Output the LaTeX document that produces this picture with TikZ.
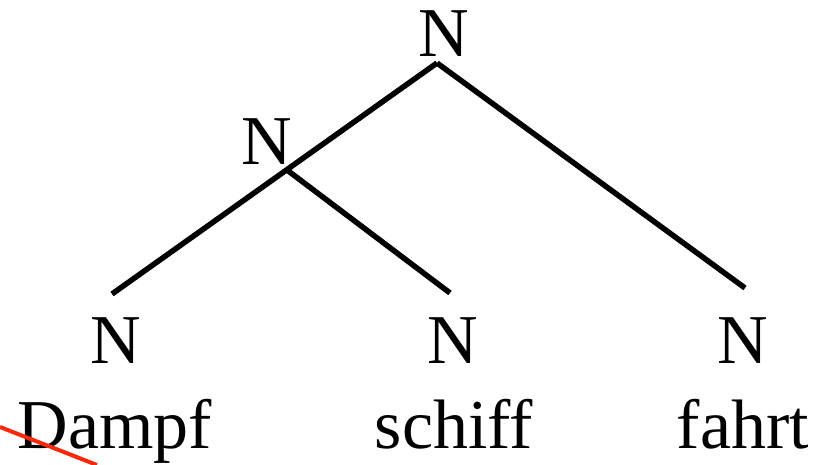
\documentclass[tikz,border=0pt]{standalone}
\usepackage{fontspec}
\setmainfont{Liberation Serif}
\usetikzlibrary{positioning}

\definecolor{strayred}{RGB}{250,40,10}

\tikzset{
	cat/.style={anchor=base, inner sep=0pt, font=\fontsize{70}{80}\selectfont},
	word/.style={anchor=base, inner sep=0pt, font=\fontsize{70}{80}\selectfont},
	branch/.style={line width=5.5pt, line cap=butt},
}

\begin{document}
\begin{tikzpicture}[x=1pt, y=-1pt]
			\useasboundingbox (0,0) rectangle (816,465);

			% categories
			\node[cat] (nroot) at(444, 57){N};
			\node[cat] (nmid) at(267, 165){N};
			\node[cat] (ndampf) at(116, 363){N};
			\node[cat] (nschiff) at(453, 363){N};
			\node[cat] (nfahrt) at(743, 363){N};

			% words
			\node[word] (dampf) at(115, 448){Dampf};
			\node[word] (schiff) at(454, 448){schiff};
			\node[word] (fahrt) at(743, 448){fahrt};

			% branch points
			\coordinate (root) at(437, 63);
			\coordinate (mid) at(287, 170);
			\coordinate (ldampf) at(112, 294);
			\coordinate (lschiff) at(450, 293);
			\coordinate (lfahrt) at(745, 288);

			\draw[branch] (root) to (ldampf);
			\draw[branch] (mid) to (lschiff);
			\draw[branch] (root) to (lfahrt);

			% stray red stroke
			\coordinate (redA) at(0, 427);
			\coordinate (redB) at(97, 465);
			\draw[strayred, line width=4pt] (redA) to (redB);
		\end{tikzpicture}
\end{document}
